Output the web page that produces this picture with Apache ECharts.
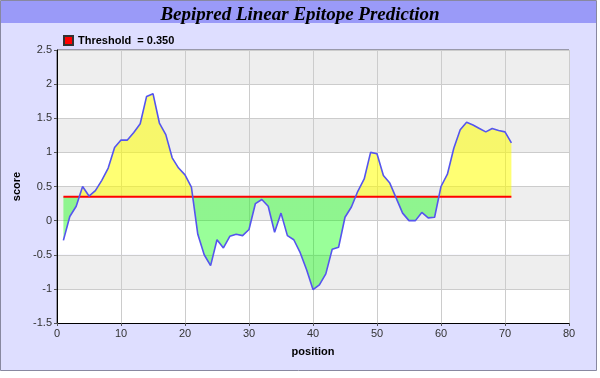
<!DOCTYPE html>
<html>
<head>
<meta charset="utf-8">
<script src="https://cdn.jsdelivr.net/npm/echarts@6/dist/echarts.min.js"></script>
<style>
    html, body { margin: 0; padding: 0; background: #ffffff; }
    #main { width: 600px; height: 378px; }
</style>
</head>
<body>
<div id="main"></div>
<script>
    // bepipred score per residue, position starts at 1
    var firstPosition = 1;
    var scores = [
        -0.29, 0.06, 0.21, 0.50, 0.36, 0.44, 0.59, 0.77, 1.07, 1.18,
        1.18, 1.29, 1.42, 1.82, 1.86, 1.43, 1.26, 0.92, 0.77, 0.67,
        0.49, -0.20, -0.50, -0.66, -0.28, -0.40, -0.23, -0.20, -0.22, -0.13,
        0.25, 0.31, 0.21, -0.17, 0.11, -0.22, -0.28, -0.47, -0.72, -1.01,
        -0.94, -0.78, -0.42, -0.39, 0.05, 0.20, 0.43, 0.61, 1.00, 0.98,
        0.66, 0.55, 0.33, 0.11, 0.00, 0.00, 0.12, 0.04, 0.05, 0.50,
        0.68, 1.06, 1.33, 1.44, 1.40, 1.35, 1.30, 1.35, 1.32, 1.30,
        1.14
    ];
    var threshold = 0.35;
    var xTicks = [0, 80, 10];          // min, max, interval
    var yTicks = [-1.5, 2.5, 0.5];

    var points = [];
    var fillPoints = [];   // same scores, measured from the threshold (hidden 2nd axis)
    scores.forEach(function (v, i) {
        points.push([firstPosition + i, v]);
        fillPoints.push([firstPosition + i, v - threshold]);
    });
    var lastPosition = firstPosition + scores.length - 1;

    var labelFont = { fontFamily: 'Liberation Sans', fontSize: 11, color: '#333', margin: 5 };
    var nameFont = { fontFamily: 'Liberation Sans', fontWeight: 'bold', fontSize: 11, color: '#000' };

    var myChart = echarts.init(document.getElementById('main'));
    var option = {
        animation: false,
        backgroundColor: '#ffffff',
        graphic: [
            {
                type: 'rect', z: -10, silent: true,
                shape: { x: 0.5, y: 0.5, width: 596, height: 370 },
                style: { fill: '#dedeff', stroke: '#8888a0', lineWidth: 1 }
            },
            {
                type: 'rect', z: -9, silent: true,
                shape: { x: 1, y: 1, width: 595, height: 22 },
                style: { fill: '#9a9af8' }
            }
        ],
        title: {
            text: 'Bepipred Linear Epitope Prediction',
            left: 'center',
            top: 1,
            textStyle: {
                fontFamily: 'Liberation Serif',
                fontStyle: 'italic',
                fontWeight: 'bold',
                fontSize: 19,
                color: '#000000'
            }
        },
        legend: {
            data: ['Threshold  = 0.350'],
            left: 58,
            top: 30,
            itemWidth: 9,
            itemHeight: 9,
            itemGap: 4,
            icon: 'rect',
            textStyle: {
                fontFamily: 'Liberation Sans',
                fontWeight: 'bold',
                fontSize: 11,
                color: '#000000'
            }
        },
        grid: {
            left: 57,
            right: 31,
            top: 50,
            bottom: 55,
            show: true,
            borderColor: '#555555',
            borderWidth: 1
        },
        xAxis: {
            type: 'value',
            min: xTicks[0],
            max: xTicks[1],
            interval: xTicks[2],
            name: 'position',
            nameLocation: 'middle',
            nameGap: 23,
            nameTextStyle: nameFont,
            axisLine: { onZero: false, lineStyle: { color: '#000000', width: 1 } },
            axisTick: { show: true, length: 3, lineStyle: { color: '#555' } },
            axisLabel: labelFont,
            splitLine: { show: true, lineStyle: { color: '#cccccc', width: 1 } }
        },
        yAxis: [
            {
                type: 'value',
                min: yTicks[0],
                max: yTicks[1],
                interval: yTicks[2],
                name: 'score',
                nameLocation: 'middle',
                nameGap: 21,
                nameTextStyle: nameFont,
                axisLine: { show: true, lineStyle: { color: '#000000', width: 1 } },
                axisTick: { show: true, length: 3, lineStyle: { color: '#555' } },
                axisLabel: labelFont,
                splitLine: { show: true, lineStyle: { color: '#cccccc', width: 1 } },
                splitArea: { show: true, areaStyle: { color: ['#ffffff', '#eeeeee'] } }
            },
            {
                // hidden axis whose zero sits on the threshold, so the area fills to it
                type: 'value',
                show: false,
                min: yTicks[0] - threshold,
                max: yTicks[1] - threshold,
                splitLine: { show: false }
            }
        ],
        series: [
            {
                name: 'fill',
                type: 'line',
                yAxisIndex: 1,
                data: fillPoints,
                showSymbol: false,
                lineStyle: { width: 0 },
                areaStyle: { color: 'rgba(255,255,0,0.55)', opacity: 1 },
                z: 2
            },
            {
                name: 'score',
                type: 'line',
                data: points,
                showSymbol: false,
                lineStyle: { color: '#5555ee', width: 1.6 },
                z: 4
            },
            {
                name: 'Threshold  = 0.350',
                type: 'line',
                data: [[firstPosition, threshold], [lastPosition, threshold]],
                showSymbol: false,
                itemStyle: { color: '#ff0000', borderColor: '#333', borderWidth: 1 },
                lineStyle: { color: '#ff0000', width: 2 },
                z: 3
            }
        ]
    };
    option && myChart.setOption(option);

    // yellow above the threshold, green below: hard stop at the threshold pixel
    var ty = myChart.convertToPixel({ yAxisIndex: 0 }, threshold);
    var h = myChart.getHeight();
    myChart.setOption({
        series: [{
            name: 'fill',
            areaStyle: {
                color: new echarts.graphic.LinearGradient(0, 0, 0, h, [
                    { offset: 0, color: 'rgba(255,255,0,0.55)' },
                    { offset: ty / h, color: 'rgba(255,255,0,0.55)' },
                    { offset: ty / h, color: 'rgba(0,255,0,0.4)' },
                    { offset: 1, color: 'rgba(0,255,0,0.4)' }
                ], true)
            }
        }]
    });
</script>
</body>
</html>
